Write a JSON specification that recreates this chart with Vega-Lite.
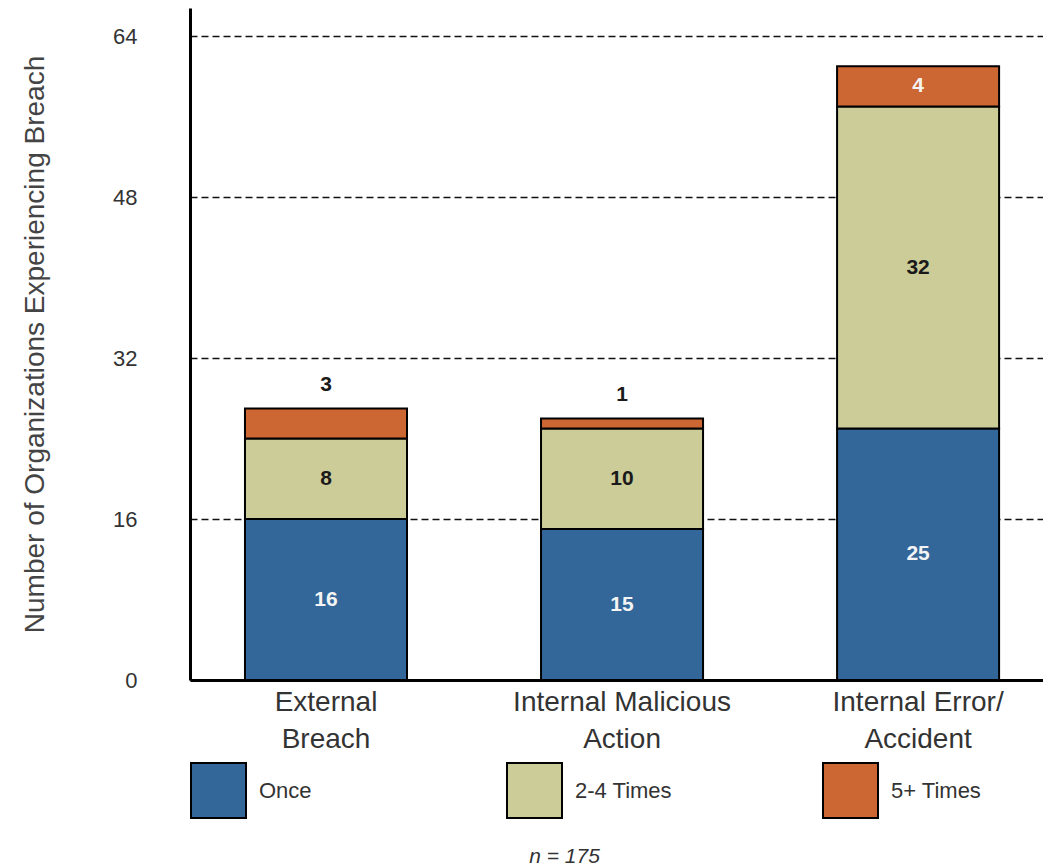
{
  "$schema": "https://vega.github.io/schema/vega-lite/v6.json",
  "width": 853,
  "height": 672,
  "autosize": {"type": "none"},
  "padding": {"left": 190, "top": 8, "right": 0, "bottom": 187},
  "background": "white",
  "config": {"font": "Liberation Sans", "view": {"stroke": null}},
  "title": {"text": "n = 175", "orient": "bottom", "anchor": "middle", "fontStyle": "italic", "fontWeight": "normal", "fontSize": 21, "color": "#333", "dx": -52, "offset": 24},
  "data": {"values": [
    {"type": "External Breach", "stage": "Once", "count": 16},
    {"type": "External Breach", "stage": "2-4 Times", "count": 8},
    {"type": "External Breach", "stage": "5+ Times", "count": 3},
    {"type": "Internal Malicious Action", "stage": "Once", "count": 15},
    {"type": "Internal Malicious Action", "stage": "2-4 Times", "count": 10},
    {"type": "Internal Malicious Action", "stage": "5+ Times", "count": 1},
    {"type": "Internal Error/Accident", "stage": "Once", "count": 25},
    {"type": "Internal Error/Accident", "stage": "2-4 Times", "count": 32},
    {"type": "Internal Error/Accident", "stage": "5+ Times", "count": 4}
  ]},
  "transform": [
    {"calculate": "indexof(['Once','2-4 Times','5+ Times'], datum.stage)", "as": "ord"},
    {"stack": "count", "groupby": ["type"], "sort": [{"field": "ord", "order": "ascending"}], "as": ["y0", "y1"]},
    {"calculate": "(datum.y0 + datum.y1) / 2", "as": "mid"}
  ],
  "encoding": {
    "x": {
      "field": "type", "type": "nominal",
      "sort": ["External Breach", "Internal Malicious Action", "Internal Error/Accident"],
      "scale": {"paddingInner": 0.4527, "paddingOuter": 0.167, "align": 0.556},
      "axis": {
        "title": null, "labelAngle": 0, "ticks": false, "grid": false,
        "domainColor": "black", "domainWidth": 3,
        "labelFontSize": 28, "labelColor": "#333", "labelPadding": 8, "labelLineHeight": 37,
        "labelBaseline": "top", "labelLimit": 400,
        "labelExpr": "datum.value == 'External Breach' ? ['External','Breach'] : datum.value == 'Internal Malicious Action' ? ['Internal Malicious','Action'] : ['Internal Error/','Accident']"
      }
    }
  },
  "layer": [
    {
      "mark": {"type": "bar", "stroke": "black", "strokeWidth": 2},
      "encoding": {
        "y": {
          "field": "y0", "type": "quantitative",
          "scale": {"domain": [0, 66.8], "nice": false, "zero": true},
          "axis": {
            "title": "Number of Organizations Experiencing Breach",
            "values": [0, 16, 32, 48, 64], "grid": true, "gridDash": [7, 4], "gridColor": "#111", "gridWidth": 1.5,
            "ticks": false, "domainColor": "black", "domainWidth": 3,
            "labelFontSize": 22, "labelColor": "#333", "labelPadding": 53,
            "titleFontSize": 28, "titleFontWeight": "normal", "titleColor": "#444", "titlePadding": 63
          }
        },
        "y2": {"field": "y1"},
        "color": {
          "field": "stage", "type": "nominal",
          "scale": {"domain": ["Once", "2-4 Times", "5+ Times"], "range": ["#336699", "#CCCC99", "#CC6633"]},
          "legend": {
            "title": null, "orient": "none", "legendX": 0, "legendY": 754, "direction": "horizontal",
            "columns": 3, "gridAlign": "all", "columnPadding": 147, "padding": 0,
            "symbolType": "square", "symbolSize": 3025, "symbolStrokeColor": "black", "symbolStrokeWidth": 2, "symbolOpacity": 1,
            "labelFontSize": 22, "labelColor": "#333", "labelOffset": 12
          }
        }
      }
    },
    {
      "transform": [{"filter": "datum.stage != '5+ Times' || datum.count >= 4"}],
      "mark": {"type": "text", "fontWeight": "bold", "fontSize": 21, "baseline": "middle"},
      "encoding": {
        "y": {"field": "mid", "type": "quantitative"},
        "text": {"field": "count"},
        "color": {"condition": {"test": "datum.stage == '2-4 Times'", "value": "#1a1a1a"}, "value": "#f4f4f4"}
      }
    },
    {
      "transform": [{"filter": "datum.stage == '5+ Times' && datum.count < 4"}],
      "mark": {"type": "text", "fontWeight": "bold", "fontSize": 21, "baseline": "middle", "dy": -23, "color": "#1a1a1a"},
      "encoding": {
        "y": {"field": "y1", "type": "quantitative"},
        "text": {"field": "count"}
      }
    }
  ]
}
